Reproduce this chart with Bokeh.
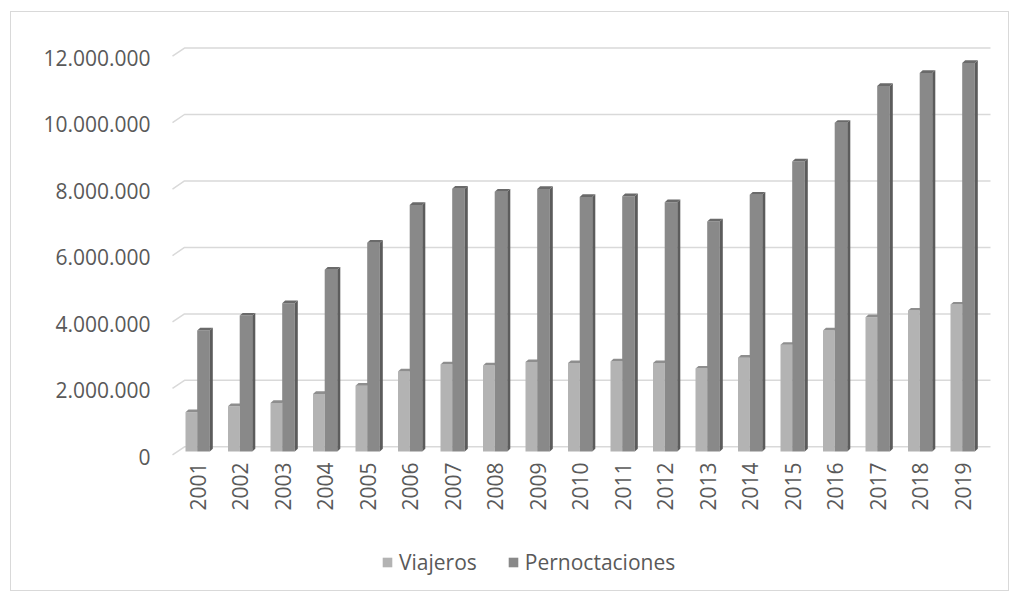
import math
from bokeh.plotting import figure
from bokeh.models import Range1d, FixedTicker, Legend, LegendItem, LinearAxis
from bokeh.core.properties import value
from bokeh.embed import file_html
from bokeh.resources import INLINE

# ---------------- data ----------------
years = [str(y) for y in range(2001, 2020)]
viajeros = [1180000, 1360000, 1460000, 1730000, 1980000, 2410000, 2620000,
            2590000, 2690000, 2660000, 2710000, 2660000, 2495000, 2820000,
            3210000, 3640000, 4040000, 4240000, 4420000]
pernoctaciones = [3640000, 4090000, 4460000, 5470000, 6280000, 7420000, 7910000,
                  7820000, 7900000, 7660000, 7680000, 7500000, 6925000, 7730000,
                  8730000, 9890000, 11000000, 11390000, 11690000]
y_ticks = [0, 2000000, 4000000, 6000000, 8000000, 10000000, 12000000]
y_tick_labels = ["0", "2.000.000", "4.000.000", "6.000.000", "8.000.000",
                 "10.000.000", "12.000.000"]
series_names = ["Viajeros", "Pernoctaciones"]

# ---------------- geometry (page pixels) ----------------
OX, OY = 11, 12                 # canvas origin on page
FL, FR, FT, FB = 160, 1000, 40, 585   # frame edges on page
BASE = 451                      # page y of value 0 (bar front)
C0 = 197                        # page x of first category centre
PXX = 42.5                      # px per category
PXY = 33.23 / 1e6               # px per unit

def dx(px):
    return px / PXX

def dy(px):
    return px / PXY

y_start, y_end = -(FB - BASE) / PXY, (BASE - FT) / PXY
x_start, x_end = (FL - C0) / PXX, (FR - C0) / PXX

CW, CH = 999, 580
p = figure(width=CW, height=CH, output_backend="svg", toolbar_location=None,
           x_range=Range1d(x_start, x_end), y_range=Range1d(y_start, y_end),
           min_border_left=FL - OX, min_border_right=CW - (FR - OX),
           min_border_top=FT - OY, min_border_bottom=CH - (FB - OY),
           x_axis_location=None, y_axis_location=None,
           styles={"margin-left": "10px", "margin-top": "11px",
                   "border": "1px solid #d9d9d9"})
p.outline_line_color = None
p.xgrid.visible = False
p.ygrid.visible = False
p.background_fill_color = "white"
p.border_fill_color = "white"

FONT = "Open Sans"
FS = "21px"
TXT = "#595959"

# ---------------- gridlines (3D-like) ----------------
gxs, gys = [], []
for v in y_ticks:
    gxs.append([dx(172 - C0), dx(184 - C0), dx(990 - C0)])
    gys.append([v - dy(3.4), v + dy(4.7), v + dy(4.7)])
p.multi_line(gxs, gys, line_color="#d9d9d9", line_width=1.5)

# ---------------- bars ----------------
n = len(years)
idx = list(range(n))
vl = [i + dx(-12) for i in idx]
vr = [i + dx(-0.3) for i in idx]
pl = [i + dx(-0.3) for i in idx]
pr = [i + dx(12.3) for i in idx]
DX3, DY3 = dx(3), dy(2.7)

r_v = p.quad(left=vl, right=vr, bottom=[0] * n, top=viajeros,
             fill_color="#b3b3b3", line_color=None)
p.patches([[a, b, b + DX3, a + DX3] for a, b in zip(vl, vr)],
          [[v, v, v + DY3, v + DY3] for v in viajeros],
          fill_color="#8e8e8e", line_color=None)

r_p = p.quad(left=pl, right=pr, bottom=[0] * n, top=pernoctaciones,
             fill_color="#898989", line_color=None)
p.patches([[b, b + DX3, b + DX3, b] for b in pr],
          [[0, DY3, v + DY3, v] for v in pernoctaciones],
          fill_color="#5c5c5c", line_color=None)
p.patches([[a, b, b + DX3, a + DX3] for a, b in zip(pl, pr)],
          [[v, v, v + DY3, v + DY3] for v in pernoctaciones],
          fill_color="#6a6a6a", line_color=None)

# ---------------- y axis ----------------
p.extra_y_ranges = {"lab": Range1d(y_start + dy(5), y_end + dy(5))}
yax = LinearAxis(y_range_name="lab", ticker=FixedTicker(ticks=y_ticks),
                 major_label_overrides={t: l for t, l in zip(y_ticks, y_tick_labels)})
yax.axis_line_color = None
yax.major_tick_line_color = None
yax.minor_tick_line_color = None
yax.major_label_standoff = 4
yax.major_label_text_font = FONT
yax.major_label_text_font_size = FS
yax.major_label_text_color = TXT
p.add_layout(yax, "left")

# ---------------- category labels (rotated) ----------------
p.text(x=idx, y=[-dy(11)] * n, text=years, angle=math.pi / 2,
       text_align="right", text_baseline="middle",
       text_font=value(FONT), text_font_size=FS, text_color=TXT)

# ---------------- legend ----------------
legend = Legend(items=[LegendItem(label=series_names[0], renderers=[r_v]),
                       LegendItem(label=series_names[1], renderers=[r_p])],
                orientation="horizontal", location=(221, FB - 576),
                glyph_width=12, glyph_height=12, label_standoff=6, spacing=30,
                padding=0, margin=0, border_line_color=None,
                background_fill_alpha=0,
                label_text_font=FONT, label_text_font_size=FS,
                label_text_color=TXT)
p.add_layout(legend, "center")

open("out.html", "w").write(file_html(p, INLINE))
